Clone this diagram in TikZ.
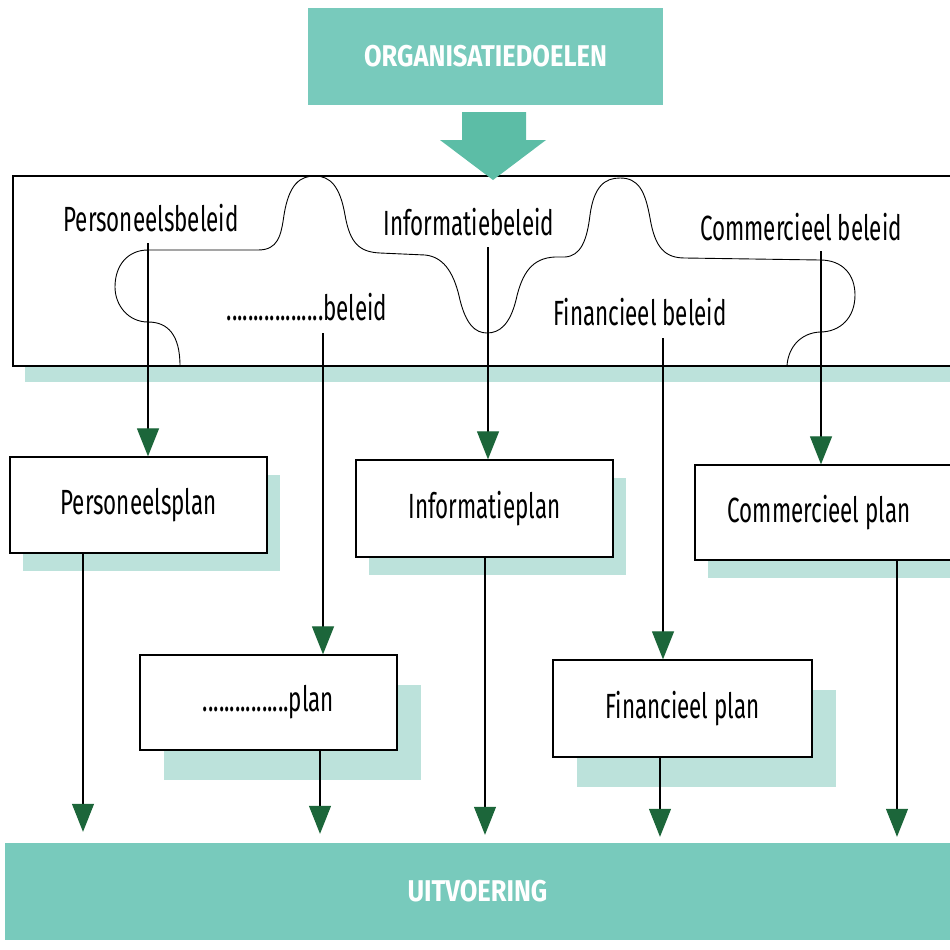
\documentclass[tikz,border=0pt]{standalone}
\usepackage{fontspec}
\setmainfont{Fira Sans}
\newfontfamily\labfont[FakeStretch=0.64]{Fira Sans}
\newfontfamily\headfont[FakeStretch=0.85]{Fira Sans}
\usetikzlibrary{arrows.meta,shadows}
\definecolor{tealband}{RGB}{120,202,188}
\definecolor{tealshadow}{RGB}{188,226,219}
\definecolor{tealarrow}{RGB}{92,189,166}
\definecolor{arrowgreen}{RGB}{28,102,58}
\begin{document}
\begin{tikzpicture}[x=1pt,y=-1pt,
  lab/.style={font=\labfont\fontsize{35}{38}\selectfont, inner sep=0pt},
  planbox/.style={draw=black, line width=1.3pt, fill=white, inner sep=0pt,
    minimum width=257pt, minimum height=96pt, font=\labfont\fontsize{35}{38}\selectfont},
  upshadow/.style={general shadow={fill=tealshadow, shadow xshift=13pt, shadow yshift=-18pt}},
  lowshadow/.style={general shadow={fill=tealshadow, shadow xshift=24pt, shadow yshift=-30pt}},
  band/.style={fill=tealband, inner sep=0pt, text=white,
    font=\headfont\bfseries\fontsize{30}{33}\selectfont},
  flow/.style={line width=1.2pt, -{Triangle[width=22pt,length=28pt,color=arrowgreen]}},
  puzzle/.style={line width=0.9pt},
]
\useasboundingbox (0,0) rectangle (950,950);
\clip (0,0) rectangle (950,950);

% banners
\node[band, minimum width=355pt, minimum height=97pt] (org) at (485.5,56.5) {ORGANISATIEDOELEN};
\node[band, minimum width=945pt, minimum height=97pt] (ui) at (477.5,891.5) {UITVOERING};

% big policy box
\node[draw=black, line width=1.4pt, fill=white, inner sep=0pt, minimum width=960pt, minimum height=190pt,
  general shadow={fill=tealshadow, shadow xshift=12pt, shadow yshift=-16pt}] (beleid) at (493,271) {};

% big arrow from goals to policy
\fill[tealarrow] (462,112) -- (526,112) -- (526,140) -- (546,140) -- (493,180) -- (440,140) -- (462,140) -- cycle;

% puzzle line
\draw[puzzle] (180,366) .. controls (180,335) and (168,322) .. (148,322)
  .. controls (128,322) and (115,305) .. (115,287)
  .. controls (115,265) and (128,250) .. (148,250)
  -- (258,250)
  .. controls (278,250) and (281,236) .. (284,215)
  .. controls (289,184) and (300,176) .. (315,176)
  .. controls (330,176) and (340,186) .. (345,215)
  .. controls (350,244) and (360,252) .. (380,253)
  -- (425,255)
  .. controls (446,257) and (455,277) .. (460,300)
  .. controls (466,324) and (475,333) .. (487,333)
  .. controls (500,333) and (510,324) .. (516,300)
  .. controls (522,273) and (532,258) .. (555,257)
  -- (565,257)
  .. controls (581,256) and (587,240) .. (590,215)
  .. controls (594,186) and (605,178) .. (620,178)
  .. controls (638,178) and (645,190) .. (650,218)
  .. controls (655,248) and (665,258) .. (685,258)
  -- (820,260)
  .. controls (843,260) and (855,275) .. (855,295)
  .. controls (855,318) and (840,332) .. (820,332)
  .. controls (800,333) and (788,348) .. (787,366);

% policy labels
\node[lab] (pb) at (151,218) {Personeelsbeleid};
\node[lab] (ib) at (469,222) {Informatiebeleid};
\node[lab] (xb) at (307,307) {..................beleid};
\node[lab] (fb) at (640,312) {Financieel beleid};
\node[lab] (cb) at (801,227) {Commercieel beleid};

% plan boxes
\node[planbox, upshadow] (pp) at (138.5,505) {Personeelsplan};
\node[planbox, upshadow, minimum height=97pt] (ip) at (484.5,508.5) {Informatieplan};
\node[planbox, upshadow, minimum width=270pt, minimum height=95pt] (cp) at (830,512.5) {\hspace*{-22pt}Commercieel plan};
\node[planbox, lowshadow, minimum height=95pt] (xp) at (268.5,702.5) {................plan};
\node[planbox, lowshadow, minimum width=259pt, minimum height=97pt] (fp) at (682.5,708.5) {Financieel plan};

% policy -> plan connectors
\coordinate (s1) at (148,243);
\coordinate (s2) at (323,333);
\coordinate (s3) at (488,247);
\coordinate (s4) at (663,338);
\coordinate (s5) at (821,251);
\draw[flow] (s1) -- (s1 |- pp.north);
\draw[flow] (s2) -- (s2 |- xp.north);
\draw[flow] (s3) -- (s3 |- ip.north);
\draw[flow] (s4) -- (s4 |- fp.north);
\draw[flow] (s5) -- (s5 |- cp.north);

% plan -> execution connectors
\coordinate (o1) at (83,0);
\coordinate (o2) at (320,0);
\coordinate (o3) at (485,0);
\coordinate (o4) at (660,0);
\coordinate (o5) at (897,0);
\draw[flow, shorten >=11pt] (o1 |- pp.south) -- (o1 |- ui.north);
\draw[flow, shorten >=9pt] (o2 |- xp.south) -- (o2 |- ui.north);
\draw[flow, shorten >=8pt] (o3 |- ip.south) -- (o3 |- ui.north);
\draw[flow, shorten >=6pt] (o4 |- fp.south) -- (o4 |- ui.north);
\draw[flow, shorten >=6pt] (o5 |- cp.south) -- (o5 |- ui.north);
\end{tikzpicture}
\end{document}
